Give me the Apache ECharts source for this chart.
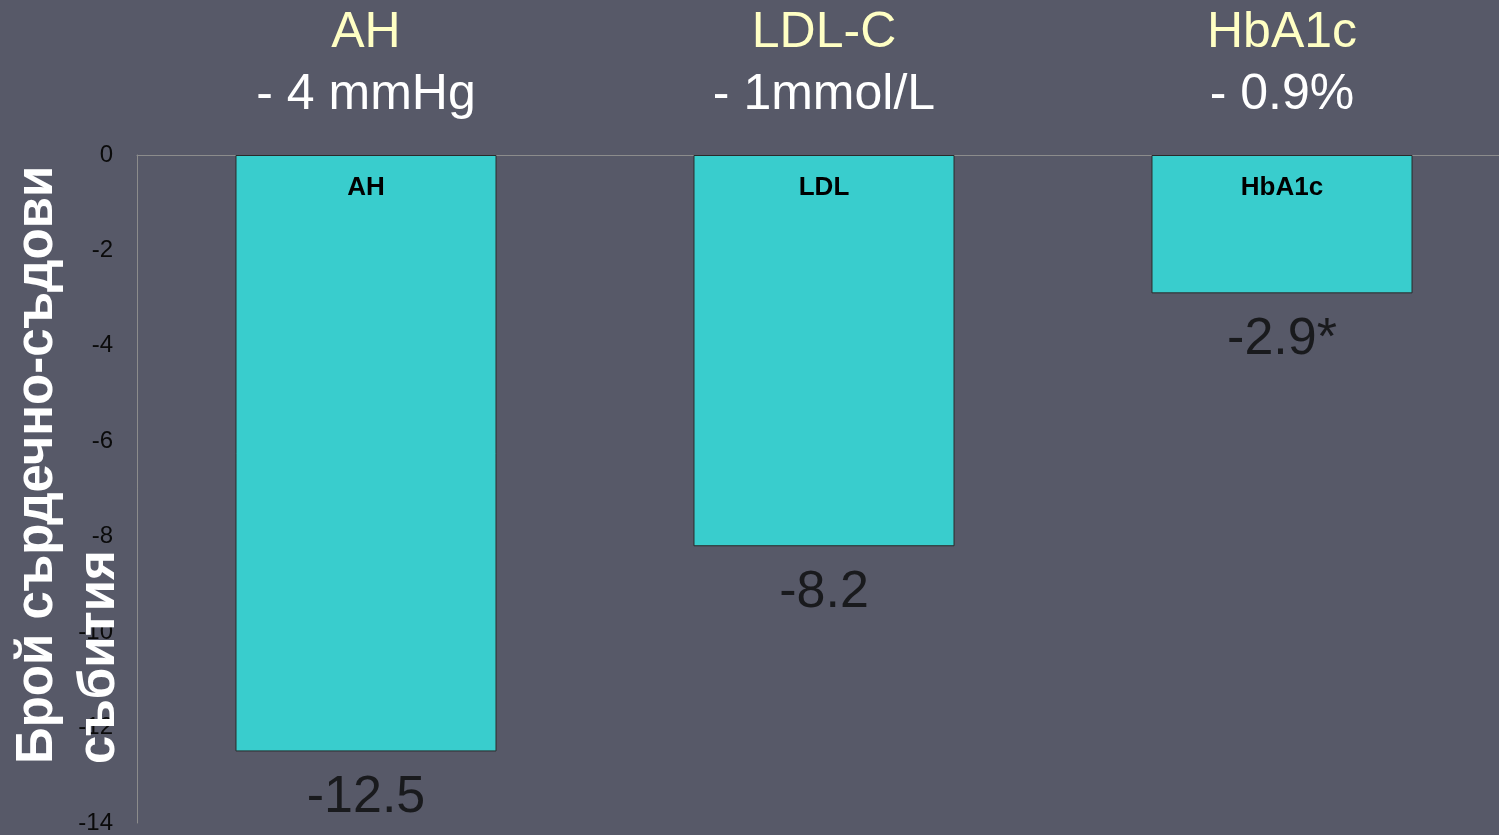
<!DOCTYPE html>
<html>
<head>
<meta charset="utf-8">
<script src="https://cdn.jsdelivr.net/npm/echarts@6/dist/echarts.min.js"></script>
<style>
html,body{margin:0;padding:0;background:#575968;}
#c{width:1499px;height:835px;}
</style>
</head>
<body>
<div id="c"></div>
<script>
// ---- data ----
var categories = ["AH", "LDL", "HbA1c"];
var values = [-12.5, -8.2, -2.9];
var valueSuffix = ["", "", "*"];
var topTitles = ["AH", "LDL-C", "HbA1c"];
var topSubtitles = ["- 4 mmHg", "- 1mmol/L", "- 0.9%"];
var yTicks = { min: -14, max: 0, interval: 2 };
var yAxisTitle = "Брой сърдечно-съдови\nсъбития";

var chart = echarts.init(document.getElementById('c'));
var option = {
  backgroundColor: '#575968',
  animation: false,
  grid: { left: 137, width: 1374, top: 155, bottom: 12, containLabel: false, outerBoundsMode: 'none' },
  xAxis: [
    {
      type: 'category',
      data: categories,
      axisLine: { show: true, onZero: true, lineStyle: { color: '#8c8c8c', width: 1 } },
      axisTick: { show: false },
      axisLabel: { show: false },
      splitLine: { show: false }
    },
    {
      type: 'category',
      position: 'top',
      data: topTitles,
      axisLine: { show: false },
      axisTick: { show: false },
      splitLine: { show: false },
      axisLabel: {
        show: true,
        interval: 0,
        margin: 29,
        formatter: function (v, i) {
          return '{t|' + v + '}\n{s|' + topSubtitles[i] + '}';
        },
        rich: {
          t: { fontFamily: 'Liberation Sans, Arial, sans-serif', fontSize: 50, color: '#ffffc4', lineHeight: 62, align: 'center' },
          s: { fontFamily: 'Liberation Sans, Arial, sans-serif', fontSize: 50, color: '#ffffff', lineHeight: 62, align: 'center' }
        }
      }
    }
  ],
  yAxis: {
    type: 'value',
    min: yTicks.min,
    max: yTicks.max,
    interval: yTicks.interval,
    axisLine: { show: true, lineStyle: { color: '#8c8c8c', width: 1 } },
    axisTick: { show: false },
    splitLine: { show: false },
    axisLabel: {
      margin: 24,
      color: '#0a0a0a',
      fontSize: 24,
      fontFamily: 'Liberation Sans, Arial, sans-serif'
    }
  },
  graphic: [
    {
      type: 'text',
      x: 7,
      y: 764,
      rotation: Math.PI / 2,
      z: 100,
      style: {
        text: yAxisTitle,
        fill: '#ffffff',
        fontSize: 51,
        fontWeight: 'bold',
        fontFamily: 'Liberation Sans, Arial, sans-serif',
        lineHeight: 62,
        align: 'left',
        verticalAlign: 'top'
      }
    }
  ],
  series: [
    {
      type: 'bar',
      data: values,
      barWidth: '57%',
      itemStyle: { color: '#39cdcd', borderColor: '#2a2a2a', borderWidth: 1 },
      label: {
        show: true,
        position: 'insideTop',
        distance: 20,
        formatter: function (p) { return categories[p.dataIndex]; },
        color: '#000000',
        fontSize: 26,
        fontWeight: 'bold',
        fontFamily: 'Liberation Sans, Arial, sans-serif'
      }
    },
    {
      type: 'scatter',
      data: values,
      symbolSize: 0,
      silent: true,
      label: {
        show: true,
        position: 'bottom',
        distance: 20,
        formatter: function (p) { return String(p.value) + valueSuffix[p.dataIndex]; },
        color: '#0a0a0a',
        fontSize: 52,
        fontFamily: 'Liberation Sans, Arial, sans-serif'
      }
    }
  ]
};
chart.setOption(option);
</script>
</body>
</html>
